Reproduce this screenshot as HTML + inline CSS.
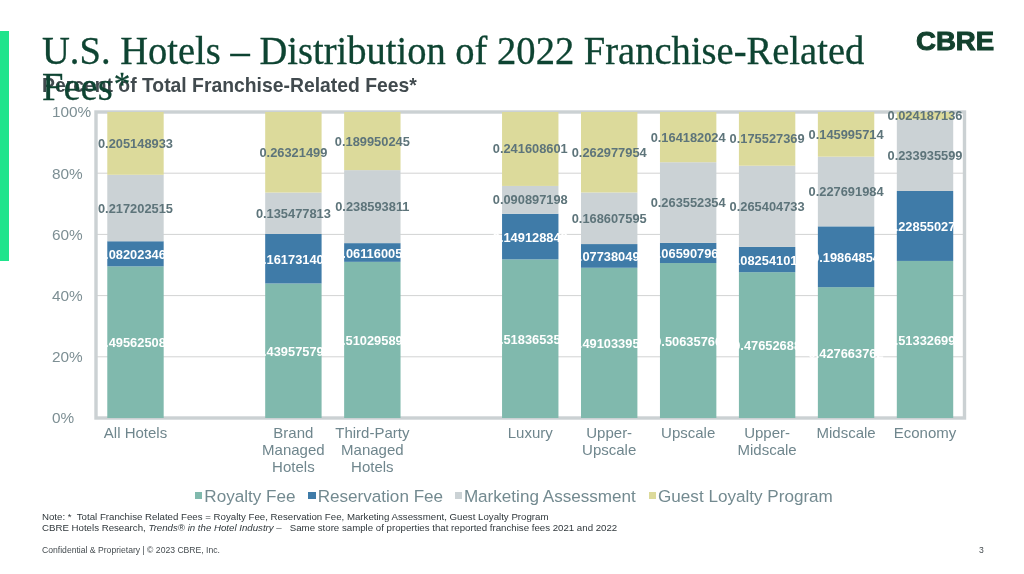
<!DOCTYPE html>
<html><head><meta charset="utf-8"><title>U.S. Hotels – Distribution of 2022 Franchise-Related Fees</title>
<style>
html,body{margin:0;padding:0;background:#fff;}
body{width:1024px;height:574px;position:relative;overflow:hidden;font-family:"Liberation Sans",sans-serif;}
.side{position:absolute;left:0;top:31px;width:9.2px;height:230.1px;background:#1fe48c;}
.title{position:absolute;left:42.2px;top:33.95px;width:860px;font-family:"Liberation Serif",serif;font-size:39.6px;line-height:35.7px;-webkit-text-stroke:0.3px #0e4432;color:#0e4432;white-space:nowrap;z-index:3;transform-origin:0 0;transform:scaleX(0.974);}
.ast{font-size:0.86em;position:relative;top:-4.8px;left:1.2px;}
.sub{position:absolute;left:42px;top:74.6px;font-weight:bold;font-size:19.35px;color:#414a4e;white-space:nowrap;line-height:20px;}
.logo{position:absolute;left:915.9px;top:24.8px;font-weight:bold;font-size:25.8px;line-height:32px;color:#13412e;-webkit-text-stroke:0.9px #13412e;transform-origin:0 0;transform:scaleX(1.07);white-space:nowrap;}
svg{position:absolute;left:0;top:0;}
.dl{font:bold 12.85px "Liberation Sans",sans-serif;text-anchor:middle;}
.cl{font:15px "Liberation Sans",sans-serif;text-anchor:middle;fill:#6f868d;}
.al{font:15.35px "Liberation Sans",sans-serif;text-anchor:start;fill:#7d8f94;}
.legend{position:absolute;left:0;top:486.8px;font-size:17.1px;line-height:20px;color:#738a90;white-space:nowrap;}
.legend i{display:inline-block;width:7.4px;height:7px;margin-right:1.9px;vertical-align:2.4px;}
.legend span{position:absolute;top:0;}
.note{position:absolute;left:42px;top:512px;font-size:9.68px;line-height:10.7px;color:#30383c;white-space:nowrap;}
.foot{position:absolute;left:42px;top:545px;font-size:8.62px;line-height:10px;color:#454c50;white-space:nowrap;}
.pg{position:absolute;left:979px;top:545px;font-size:8.62px;line-height:10px;color:#454c50;}
</style></head><body>
<div class="side"></div>
<div class="title">U.S. Hotels – Distribution of 2022 Franchise-Related<br>Fees<span class="ast">*</span></div>
<div class="sub">Percent of Total Franchise-Related Fees*</div>
<div class="logo">CBRE</div>
<svg width="1024" height="574" viewBox="0 0 1024 574">
<line x1="96.0" x2="964.5" y1="356.80" y2="356.80" stroke="#d2d3d3" stroke-width="1"/>
<line x1="96.0" x2="964.5" y1="295.60" y2="295.60" stroke="#d2d3d3" stroke-width="1"/>
<line x1="96.0" x2="964.5" y1="234.40" y2="234.40" stroke="#d2d3d3" stroke-width="1"/>
<line x1="96.0" x2="964.5" y1="173.20" y2="173.20" stroke="#d2d3d3" stroke-width="1"/>
<rect x="96.0" y="112.0" width="868.5" height="306.0" fill="none" stroke="#cbd1d3" stroke-width="3.4"/>
<rect x="107.28" y="266.34" width="56.4" height="151.66" fill="#80b9ad"/>
<rect x="107.28" y="241.24" width="56.4" height="25.10" fill="#3f7ba8"/>
<rect x="107.28" y="174.78" width="56.4" height="66.46" fill="#cbd2d5"/>
<rect x="107.28" y="112.00" width="56.4" height="62.78" fill="#dcda9b"/>
<rect x="265.19" y="283.49" width="56.4" height="134.51" fill="#80b9ad"/>
<rect x="265.19" y="234.00" width="56.4" height="49.49" fill="#3f7ba8"/>
<rect x="265.19" y="192.54" width="56.4" height="41.46" fill="#cbd2d5"/>
<rect x="265.19" y="112.00" width="56.4" height="80.54" fill="#dcda9b"/>
<rect x="344.14" y="261.85" width="56.4" height="156.15" fill="#80b9ad"/>
<rect x="344.14" y="243.13" width="56.4" height="18.71" fill="#3f7ba8"/>
<rect x="344.14" y="170.12" width="56.4" height="73.01" fill="#cbd2d5"/>
<rect x="344.14" y="112.00" width="56.4" height="58.12" fill="#dcda9b"/>
<rect x="502.05" y="259.38" width="56.4" height="158.62" fill="#80b9ad"/>
<rect x="502.05" y="213.75" width="56.4" height="45.63" fill="#3f7ba8"/>
<rect x="502.05" y="185.93" width="56.4" height="27.81" fill="#cbd2d5"/>
<rect x="502.05" y="112.00" width="56.4" height="73.93" fill="#dcda9b"/>
<rect x="581.00" y="267.74" width="56.4" height="150.26" fill="#80b9ad"/>
<rect x="581.00" y="244.07" width="56.4" height="23.68" fill="#3f7ba8"/>
<rect x="581.00" y="192.47" width="56.4" height="51.59" fill="#cbd2d5"/>
<rect x="581.00" y="112.00" width="56.4" height="80.47" fill="#dcda9b"/>
<rect x="659.96" y="263.05" width="56.4" height="154.95" fill="#80b9ad"/>
<rect x="659.96" y="242.89" width="56.4" height="20.17" fill="#3f7ba8"/>
<rect x="659.96" y="162.24" width="56.4" height="80.65" fill="#cbd2d5"/>
<rect x="659.96" y="112.00" width="56.4" height="50.24" fill="#dcda9b"/>
<rect x="738.91" y="272.18" width="56.4" height="145.82" fill="#80b9ad"/>
<rect x="738.91" y="246.93" width="56.4" height="25.26" fill="#3f7ba8"/>
<rect x="738.91" y="165.71" width="56.4" height="81.21" fill="#cbd2d5"/>
<rect x="738.91" y="112.00" width="56.4" height="53.71" fill="#dcda9b"/>
<rect x="817.87" y="287.13" width="56.4" height="130.87" fill="#80b9ad"/>
<rect x="817.87" y="226.35" width="56.4" height="60.79" fill="#3f7ba8"/>
<rect x="817.87" y="156.67" width="56.4" height="69.67" fill="#cbd2d5"/>
<rect x="817.87" y="112.00" width="56.4" height="44.67" fill="#dcda9b"/>
<rect x="896.82" y="260.92" width="56.4" height="157.08" fill="#80b9ad"/>
<rect x="896.82" y="190.99" width="56.4" height="69.94" fill="#3f7ba8"/>
<rect x="896.82" y="119.40" width="56.4" height="71.58" fill="#cbd2d5"/>
<rect x="896.82" y="112.00" width="56.4" height="7.40" fill="#dcda9b"/>
<text x="135.48" y="347.27" fill="#ffffff" class="dl">0.495625087</text>
<text x="135.48" y="258.89" fill="#ffffff" class="dl">0.082023465</text>
<text x="135.48" y="212.51" fill="#5d747a" class="dl">0.217202515</text>
<text x="135.48" y="147.89" fill="#5d747a" class="dl">0.205148933</text>
<text x="135.48" y="437.50" class="cl">All Hotels</text>
<text x="293.39" y="355.84" fill="#ffffff" class="dl">0.439575797</text>
<text x="293.39" y="263.84" fill="#ffffff" class="dl">0.161731400</text>
<text x="293.39" y="217.77" fill="#5d747a" class="dl">0.135477813</text>
<text x="293.39" y="156.77" fill="#5d747a" class="dl">0.26321499</text>
<text x="293.39" y="437.50" class="cl">Brand</text>
<text x="293.39" y="454.80" class="cl">Managed</text>
<text x="293.39" y="472.10" class="cl">Hotels</text>
<text x="372.34" y="345.02" fill="#ffffff" class="dl">0.510295894</text>
<text x="372.34" y="257.59" fill="#ffffff" class="dl">0.061160050</text>
<text x="372.34" y="211.13" fill="#5d747a" class="dl">0.238593811</text>
<text x="372.34" y="145.56" fill="#5d747a" class="dl">0.189950245</text>
<text x="372.34" y="437.50" class="cl">Third-Party</text>
<text x="372.34" y="454.80" class="cl">Managed</text>
<text x="372.34" y="472.10" class="cl">Hotels</text>
<text x="530.25" y="343.79" fill="#ffffff" class="dl">0.518365353</text>
<text x="530.25" y="241.66" fill="#ffffff" class="dl">0.149128848</text>
<text x="530.25" y="204.34" fill="#5d747a" class="dl">0.090897198</text>
<text x="530.25" y="153.47" fill="#5d747a" class="dl">0.241608601</text>
<text x="530.25" y="437.50" class="cl">Luxury</text>
<text x="609.20" y="347.97" fill="#ffffff" class="dl">0.491033955</text>
<text x="609.20" y="261.00" fill="#ffffff" class="dl">0.077380496</text>
<text x="609.20" y="222.77" fill="#5d747a" class="dl">0.168607595</text>
<text x="609.20" y="156.74" fill="#5d747a" class="dl">0.262977954</text>
<text x="609.20" y="437.50" class="cl">Upper-</text>
<text x="609.20" y="454.80" class="cl">Upscale</text>
<text x="688.16" y="345.63" fill="#ffffff" class="dl">0.50635766</text>
<text x="688.16" y="258.07" fill="#ffffff" class="dl">0.065907962</text>
<text x="688.16" y="207.06" fill="#5d747a" class="dl">0.263552354</text>
<text x="688.16" y="141.62" fill="#5d747a" class="dl">0.164182024</text>
<text x="688.16" y="437.50" class="cl">Upscale</text>
<text x="767.11" y="350.19" fill="#ffffff" class="dl">0.47652688</text>
<text x="767.11" y="264.65" fill="#ffffff" class="dl">0.082541018</text>
<text x="767.11" y="210.82" fill="#5d747a" class="dl">0.265404733</text>
<text x="767.11" y="143.36" fill="#5d747a" class="dl">0.175527369</text>
<text x="767.11" y="437.50" class="cl">Upper-</text>
<text x="767.11" y="454.80" class="cl">Midscale</text>
<text x="846.07" y="357.67" fill="#ffffff" class="dl">0.427663762</text>
<text x="846.07" y="261.84" fill="#ffffff" class="dl">0.19864854</text>
<text x="846.07" y="196.01" fill="#5d747a" class="dl">0.227691984</text>
<text x="846.07" y="138.84" fill="#5d747a" class="dl">0.145995714</text>
<text x="846.07" y="437.50" class="cl">Midscale</text>
<text x="925.02" y="344.56" fill="#ffffff" class="dl">0.513326998</text>
<text x="925.02" y="231.05" fill="#ffffff" class="dl">0.228550273</text>
<text x="925.02" y="159.69" fill="#5d747a" class="dl">0.233935599</text>
<text x="925.02" y="120.20" fill="#5d747a" class="dl">0.024187136</text>
<text x="925.02" y="437.50" class="cl">Economy</text>
<text x="52" y="423.40" class="al">0%</text>
<text x="52" y="362.20" class="al">20%</text>
<text x="52" y="301.00" class="al">40%</text>
<text x="52" y="239.80" class="al">60%</text>
<text x="52" y="178.60" class="al">80%</text>
<text x="52" y="117.40" class="al">100%</text>
</svg>
<div class="legend"><span style="left:195px"><i style="background:#80b9ad"></i>Royalty Fee</span><span style="left:308.4px"><i style="background:#3f7ba8"></i>Reservation Fee</span><span style="left:454.6px"><i style="background:#cbd2d5"></i>Marketing Assessment</span><span style="left:648.75px"><i style="background:#dcda9b"></i>Guest Loyalty Program</span></div>
<div class="note">Note: *&nbsp; Total Franchise Related Fees = Royalty Fee, Reservation Fee, Marketing Assessment, Guest Loyalty Program<br>CBRE Hotels Research, <em>Trends® in the Hotel Industry –</em> &nbsp; Same store sample of properties that reported franchise fees 2021 and 2022</div>
<div class="foot">Confidential &amp; Proprietary | © 2023 CBRE, Inc.</div>
<div class="pg">3</div>
</body></html>
